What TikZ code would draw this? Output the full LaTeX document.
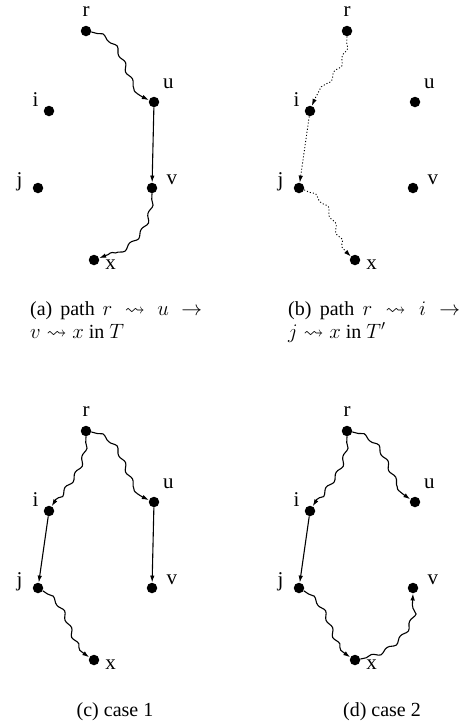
\documentclass[tikz,border=0pt]{standalone}
\usepackage{amssymb}
\usepackage{fontspec}
\setmainfont{Liberation Serif}
\usetikzlibrary{arrows.meta, decorations.pathmorphing}

\begin{document}
\begin{tikzpicture}[
  x=1pt, y=1pt,
  dot/.style={circle, fill, inner sep=0pt, minimum size=10.5pt},
  lbl/.style={font=\fontsize{21}{21}\selectfont, inner sep=0pt, anchor=center},
  arr/.style={-{Latex[length=7pt, width=4.5pt]}, line width=1.1pt},
  faint/.style={arr, dotted, line width=0.9pt},
  wavy/.style={decorate, decoration={snake, amplitude=1.8pt, segment length=18pt,
               pre length=6pt, post length=8pt}},
  captxt/.style={font=\fontsize{20}{24}\selectfont, anchor=base west, inner sep=0pt},
  casetxt/.style={font=\fontsize{20}{24}\selectfont, anchor=base, inner sep=0pt},
]
\useasboundingbox (0,0) rectangle (464,-724);

%% the same six points in each of the four panels
\foreach \p/\dx/\dy in {a/0/0, b/261/0, c/0/-400, d/261/-400}{
  \begin{scope}[shift={(\dx,\dy)}]
    \node[dot, label={[lbl, label distance=14pt]90:r}]  (\p-r) at (86,-31)  {};
    \node[dot, label={[lbl, label distance=18pt]52:u}]  (\p-u) at (154,-102) {};
    \node[dot, label={[lbl, label distance=12pt]140:i}] (\p-i) at (49,-111)  {};
    \node[dot, label={[lbl, label distance=14pt]162:j}] (\p-j) at (38,-188)  {};
    \node[dot, label={[lbl, label distance=16pt]22:v}]  (\p-v) at (152,-188) {};
    \node[dot, label={[lbl, label distance=12pt]-17:x}] (\p-x) at (94,-260)  {};
  \end{scope}
}

%% (a) path in T
\draw[arr, wavy] (a-r) to[out=-10, in=160] (a-u);
\draw[arr] (a-u) -- (a-v);
\draw[arr, wavy] (a-v) to[out=-90, in=20] (a-x);

%% (b) path in T'
\draw[faint, wavy] (b-r) to[out=-90, in=70] (b-i);
\draw[faint] (b-i) -- (b-j);
\draw[faint, wavy] (b-j) to[out=-20, in=140] (b-x);

%% (c) case 1
\draw[arr, wavy] (c-r) to[out=-90, in=60] (c-i);
\draw[arr, wavy] (c-r) to[out=-10, in=160] (c-u);
\draw[arr] (c-i) -- (c-j);
\draw[arr] (c-u) -- (c-v);
\draw[arr, wavy] (c-j) to[out=-30, in=150] (c-x);

%% (d) case 2
\draw[arr, wavy] (d-r) to[out=-90, in=60] (d-i);
\draw[arr, wavy] (d-r) to[out=-10, in=150] (d-u);
\draw[arr] (d-i) -- (d-j);
\draw[arr, wavy] (d-j) to[out=-30, in=150] (d-x);
\draw[arr, wavy] (d-x) to[out=10, in=-90] (d-v);

%% captions
\node[captxt] (capa1) at (30,-315) {\makebox[172pt][s]{(a) path $r \rightsquigarrow u \rightarrow$}};
\node[captxt] (capa2) at (30,-338) {$v \rightsquigarrow x$ in $T$};
\node[captxt] (capb1) at (288,-315) {\makebox[172pt][s]{(b) path $r \rightsquigarrow i \rightarrow$}};
\node[captxt] (capb2) at (288,-338) {$j \rightsquigarrow x$ in $T'$};
\node[casetxt] (capc) at (115,-716) {(c)\ case\ 1};
\node[casetxt] (capd) at (382,-716) {(d)\ case\ 2};

\end{tikzpicture}
\end{document}
